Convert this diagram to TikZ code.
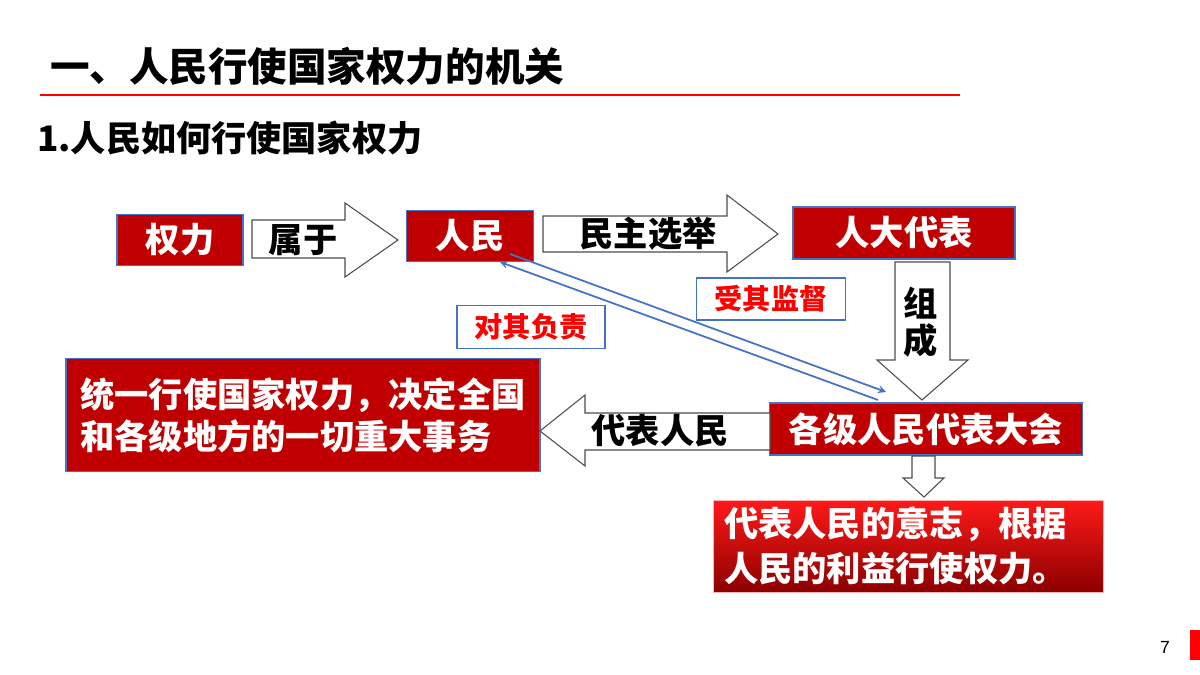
\documentclass[tikz,border=0pt]{standalone}
\usepackage{fontspec}
\setmainfont{Liberation Sans}
\newfontfamily\cjk{Noto Sans CJK SC}
\usetikzlibrary{positioning}
\definecolor{darkred}{RGB}{192,0,0}
\definecolor{edgeblue}{RGB}{68,114,196}
\tikzset{
    redbox/.style={
        rectangle,
        draw=edgeblue, % 蓝色边框
        fill=darkred,
        line width=1pt,
        inner sep=0,
        text=white,
        font=\cjk\bfseries\fontsize{19.5}{24}\selectfont
    },
    notebox/.style={
        rectangle,
        draw=edgeblue,
        fill=white,
        line width=1pt,
        inner sep=0,
        text=red,
        font=\cjk\bfseries\fontsize{16}{19}\selectfont
    },
    blockarrow/.style={
        draw=black!70,
        fill=white,
        line width=0.6pt
    },
    arrowtext/.style={
        font=\cjk\bfseries\fontsize{19.5}{24}\selectfont
    }
}
\begin{document}
\begin{tikzpicture}[x=0.02cm,y=-0.02cm]
\useasboundingbox (0,0) rectangle (1200,675);
% 标题
\node[anchor=west,font=\cjk\bfseries\fontsize{22.5}{26}\selectfont] (title) at (44,66) {一、人民行使国家权力的机关};
\draw[red,line width=1pt] (40,95) -- (960,95);
\node[anchor=west,font=\cjk\bfseries\fontsize{20}{24}\selectfont] (sub) at (31,138) {1.人民如何行使国家权力};
% 方框
\node[redbox,minimum width=126*0.02cm,minimum height=51*0.02cm] (power) at (180,240) {权力};
\node[redbox,minimum width=127*0.02cm,minimum height=51*0.02cm] (people) at (470,236) {人民};
\node[redbox,minimum width=222*0.02cm,minimum height=52*0.02cm] (deputy) at (904,233) {人大代表};
\node[redbox,minimum width=313*0.02cm,minimum height=52*0.02cm] (congress) at (926,429) {各级人民代表大会};
\node[redbox,minimum width=474*0.02cm,minimum height=113*0.02cm,align=left] (unify) at (303,415) {统一行使国家权力，决定全国\\和各级地方的一切重大事务};
\node[rectangle,draw=red!30,top color=red!90!white,bottom color=red!55!black,minimum width=390*0.02cm,minimum height=92*0.02cm] (will) at (908,546) {};
\node[anchor=west,align=left,text=white,font=\cjk\bfseries\fontsize{19.5}{26}\selectfont] (willtext) at (718,546) {代表人民的意志，根据\\人民的利益行使权力。};
\node[notebox,minimum width=149*0.02cm,minimum height=42*0.02cm] (supervise) at (771,299) {受其监督};
\node[notebox,minimum width=148*0.02cm,minimum height=43*0.02cm] (responsible) at (531,327) {对其负责};
% 空心箭头
\draw[blockarrow] (252,220) -- (345,220) -- (345,203) -- (398,240) -- (345,277) -- (345,258) -- (252,258) -- cycle;
\node[arrowtext] (belong) at (303,240) {属于};
\draw[blockarrow] (543,216) -- (727,216) -- (727,195) -- (778,234) -- (727,272) -- (727,252) -- (543,252) -- cycle;
\node[arrowtext] (elect) at (648,234) {民主选举};
\draw[blockarrow] (895,262) -- (950,262) -- (950,360) -- (968,360) -- (922,400) -- (877,360) -- (895,360) -- cycle;
\node[arrowtext,align=center,font=\cjk\bfseries\fontsize{19.5}{21}\selectfont] (form) at (921,322) {组\\成};
\draw[blockarrow] (770,413) -- (585,413) -- (585,395) -- (540,431) -- (585,466) -- (585,450) -- (770,450) -- cycle;
\node[arrowtext] (represent) at (660,431) {代表人民};
\draw[blockarrow] (912,456) -- (935,456) -- (935,478) -- (944,478) -- (924,497) -- (903,478) -- (912,478) -- cycle;
% 双向关系
\coordinate (upend) at (500,262);
\coordinate (upstart) at (878,400);
\coordinate (downstart) at (510,254);
\coordinate (downend) at (886,392);
\draw[edgeblue,line width=1pt,-stealth] (upstart) -- (upend);
\draw[edgeblue,line width=1pt,-stealth] (downstart) -- (downend);
% 页码
\node[font=\fontsize{10}{12}\selectfont] (page) at (1165,647) {7};
\fill[red] (1190,630) rectangle (1200,660);
\end{tikzpicture}
\end{document}
